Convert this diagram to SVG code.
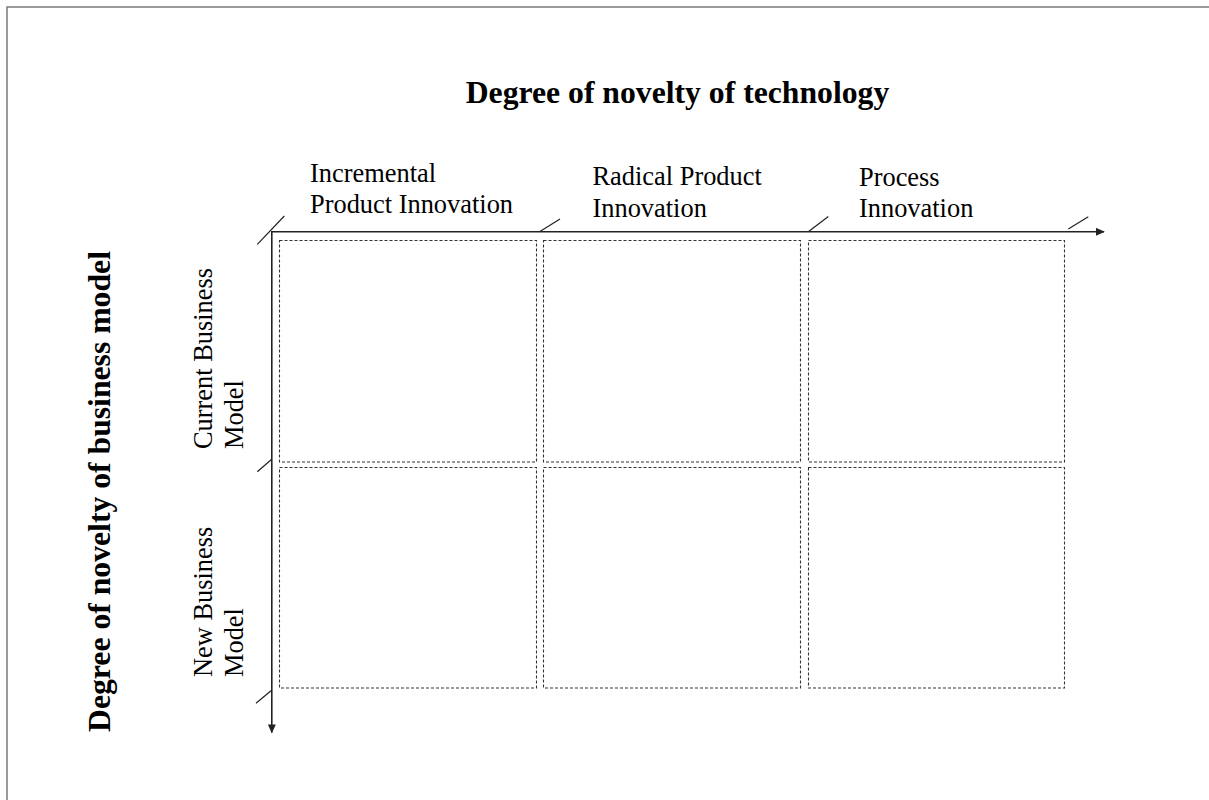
<svg xmlns="http://www.w3.org/2000/svg" width="1209" height="800" viewBox="0 0 1209 800">
  <style>
    .frame { fill: none; stroke: #7a7a7a; stroke-width: 1.5; }
    .axis { fill: none; stroke: #222; stroke-width: 1.6; }
    .tick { fill: none; stroke: #222; stroke-width: 1.2; }
    .cell { fill: #fff; stroke: #333; stroke-width: 1.1; stroke-dasharray: 3 2; }
    .title { font-family: "Liberation Serif", "Times New Roman", serif; font-weight: bold; font-size: 31.7px; fill: #000; }
    .label { font-family: "Liberation Serif", "Times New Roman", serif; font-size: 26.4px; fill: #000; }
  </style>
  <defs>
    <marker id="arrow" viewBox="0 0 10 10" refX="9" refY="5" markerWidth="9" markerHeight="8" markerUnits="userSpaceOnUse" orient="auto" preserveAspectRatio="none">
      <path d="M0,0 L10,5 L0,10 z" fill="#222"/>
    </marker>
  </defs>

  <rect width="1209" height="800" fill="#fff"/>
  <!-- page frame: only top and left edges fall inside the canvas -->
  <rect class="frame" x="7" y="7" width="1220" height="820"/>

  <!-- titles -->
  <text id="title-technology" class="title" x="677.5" y="103.3" text-anchor="middle">Degree of novelty of technology</text>
  <text id="title-business" class="title" transform="translate(109.5,491.5) rotate(-90)" text-anchor="middle">Degree of novelty of business model</text>

  <!-- column headers -->
  <g id="col-incremental">
    <text class="label" x="310" y="182.3">Incremental</text>
    <text class="label" x="310" y="213.3">Product Innovation</text>
  </g>
  <g id="col-radical">
    <text class="label" x="592.5" y="185">Radical Product</text>
    <text class="label" x="592.5" y="216.7">Innovation</text>
  </g>
  <g id="col-process">
    <text class="label" x="859" y="185.7">Process</text>
    <text class="label" x="859" y="216.7">Innovation</text>
  </g>

  <!-- row headers -->
  <g id="row-current" transform="translate(0,449) rotate(-90)">
    <text class="label" x="0" y="211.5">Current Business</text>
    <text class="label" x="0" y="243">Model</text>
  </g>
  <g id="row-new" transform="translate(0,677) rotate(-90)">
    <text class="label" x="0" y="211.5">New Business</text>
    <text class="label" x="0" y="243">Model</text>
  </g>

  <!-- matrix cells -->
  <g id="cell-r1c1"><rect class="cell" x="279.5" y="240.5" width="257" height="221.5"/></g>
  <g id="cell-r1c2"><rect class="cell" x="543.5" y="240.5" width="257" height="221.5"/></g>
  <g id="cell-r1c3"><rect class="cell" x="808.5" y="240.5" width="256" height="221.5"/></g>
  <g id="cell-r2c1"><rect class="cell" x="279.5" y="467.5" width="257" height="220.5"/></g>
  <g id="cell-r2c2"><rect class="cell" x="543.5" y="467.5" width="257" height="220.5"/></g>
  <g id="cell-r2c3"><rect class="cell" x="808.5" y="467.5" width="256" height="220.5"/></g>

  <!-- axes and division ticks -->
  <g id="connectors">
    <line class="axis" x1="271.5" y1="231.8" x2="1104" y2="231.8" marker-end="url(#arrow)"/>
    <line class="axis" x1="271.8" y1="231" x2="271.8" y2="732.5" marker-end="url(#arrow)"/>
    <line class="tick" x1="257.3" y1="244.3" x2="284.3" y2="216"/>
    <line class="tick" x1="539.5" y1="231.7" x2="560" y2="219"/>
    <line class="tick" x1="808.3" y1="231.7" x2="828.3" y2="216.5"/>
    <line class="tick" x1="1068.3" y1="229" x2="1088.3" y2="216.7"/>
    <line class="tick" x1="271.7" y1="459.3" x2="257.3" y2="471.7"/>
    <line class="tick" x1="271" y1="690.7" x2="256" y2="703.3"/>
  </g>
</svg>
